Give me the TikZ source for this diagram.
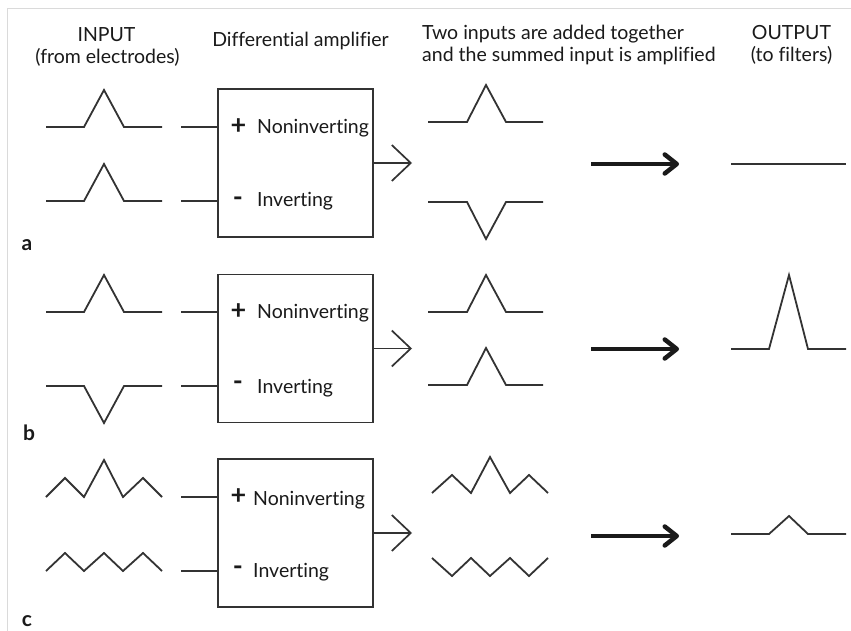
\documentclass[tikz,border=0pt]{standalone}
\usepackage{fontspec}
\setmainfont[Ligatures=NoCommon]{Lato}
\usetikzlibrary{arrows.meta}
\definecolor{ln}{HTML}{333333}
\definecolor{txt}{HTML}{1A1A1A}
\definecolor{frm}{HTML}{DADADA}
\tikzset{
  wave/.style={draw=ln, line width=1.8pt},
  lead/.style={draw=ln, line width=1.8pt},
  ampbox/.style={draw=ln, line width=1.8pt, minimum width=155pt, minimum height=148pt, inner sep=0pt},
  lbl/.style={text=txt, inner sep=0pt, font=\fontsize{19.5}{22}\selectfont},
  sign/.style={text=txt, inner sep=0pt, font=\fontsize{27}{27}\selectfont\bfseries},
  panel/.style={text=txt, inner sep=0pt, font=\fontsize{21}{21}\selectfont\bfseries},
  outarrow/.style={draw=ln, line width=1.7pt, -{Straight Barb[length=19pt,width=36pt]}},
  bigarrow/.style={draw=txt, line width=4.5pt, -{Straight Barb[length=12pt,width=19pt,round]}},
  frame/.style={draw=frm, line width=0.8pt}
}
\begin{document}
\begin{tikzpicture}[x=1pt,y=-1pt]
\useasboundingbox (0,0) rectangle (851,631);
\fill[white] (0,0) rectangle (851,631);
\draw[frame] (851,8) -- (7,8) -- (7,631);

% headers
\node[lbl, anchor=base] (hin1) at (106.5,42) {INPUT};
\node[lbl, anchor=base] (hin2) at (107.5,64) {(from electrodes)};
\node[lbl, anchor=base] (hamp) at (300.5,47) {Differential amplifier};
\node[lbl, anchor=base west] (hsum1) at (422,40) {Two inputs are added together};
\node[lbl, anchor=base west] (hsum2) at (422,62) {and the summed input is amplified};
\node[lbl, anchor=base] (hout1) at (791.5,40) {OUTPUT};
\node[lbl, anchor=base] (hout2) at (791.5,62) {(to filters)};

% ---------- panel a ----------
\node[ampbox] (boxa) at (295.5,163) {};
\draw[wave] (46,127) -- (84,127) -- (104,90) -- (124,127) -- (162,127);
\draw[wave] (46,201) -- (84,201) -- (104,164) -- (124,201) -- (162,201);
\coordinate (ina1) at (181,127);
\coordinate (ina2) at (181,201);
\draw[lead] (ina1) -- (ina1 -| boxa.west);
\draw[lead] (ina2) -- (ina2 -| boxa.west);
\node[sign] (pa) at (238.5,127) {+};
\node[lbl, anchor=base west] (nia) at (257,134) {Noninverting};
\node[sign] (ma) at (238,202) {-};
\node[lbl, anchor=base west] (iva) at (257,207) {Inverting};
\coordinate (oa) at (412,163);
\draw[outarrow] (boxa.east) -- (oa);
\draw[wave] (428,122) -- (467,122) -- (486,85) -- (506,122) -- (543,122);
\draw[wave] (428,202) -- (467,202) -- (486,239) -- (506,202) -- (543,202);
\coordinate (ta1) at (591,164);
\coordinate (ta2) at (679,164);
\draw[bigarrow] (ta1) -- (ta2);
\draw[wave] (731,164) -- (846,164);
\node[panel, anchor=base] (la) at (27,250) {a};

% ---------- panel b ----------
\node[ampbox] (boxb) at (295.5,348.5) {};
\draw[wave] (46,312) -- (84,312) -- (104,275) -- (124,312) -- (162,312);
\draw[wave] (46,386) -- (84,386) -- (104,423) -- (124,386) -- (162,386);
\coordinate (inb1) at (181,312);
\coordinate (inb2) at (181,386);
\draw[lead] (inb1) -- (inb1 -| boxb.west);
\draw[lead] (inb2) -- (inb2 -| boxb.west);
\node[sign] (pb) at (238.5,312) {+};
\node[lbl, anchor=base west] (nib) at (257,318) {Noninverting};
\node[sign] (mb) at (238,386) {-};
\node[lbl, anchor=base west] (ivb) at (257,393) {Inverting};
\coordinate (ob) at (412,348.5);
\draw[outarrow] (boxb.east) -- (ob);
\draw[wave] (428,312) -- (467,312) -- (486,275) -- (506,312) -- (543,312);
\draw[wave] (428,385) -- (467,385) -- (486,348) -- (506,385) -- (543,385);
\coordinate (tb1) at (591,349);
\coordinate (tb2) at (679,349);
\draw[bigarrow] (tb1) -- (tb2);
\draw[wave] (731,349) -- (769,349) -- (789,275) -- (808,349) -- (846,349);
\node[panel, anchor=base] (lb) at (29,440) {b};

% ---------- panel c ----------
\node[ampbox] (boxc) at (295.5,533) {};
\draw[wave] (46,497) -- (65,478) -- (84,497) -- (104,460) -- (123,497) -- (143,478) -- (162,497);
\draw[wave] (46,571) -- (65,553) -- (84,571) -- (104,553) -- (123,571) -- (143,553) -- (162,571);
\coordinate (inc1) at (181,497);
\coordinate (inc2) at (181,571);
\draw[lead] (inc1) -- (inc1 -| boxc.west);
\draw[lead] (inc2) -- (inc2 -| boxc.west);
\node[sign] (pc) at (238.5,497) {+};
\node[lbl, anchor=base west] (nic) at (253,505) {Noninverting};
\node[sign] (mc) at (238,571) {-};
\node[lbl, anchor=base west] (ivc) at (253,577) {Inverting};
\coordinate (oc) at (412,533);
\draw[outarrow] (boxc.east) -- (oc);
\draw[wave] (432,493) -- (452,475) -- (471,493) -- (490,457) -- (510,493) -- (529,475) -- (548,493);
\draw[wave] (432,558) -- (452,576) -- (471,558) -- (490,576) -- (510,558) -- (529,576) -- (548,558);
\coordinate (tc1) at (591,536);
\coordinate (tc2) at (679,536);
\draw[bigarrow] (tc1) -- (tc2);
\draw[wave] (731,534) -- (769,534) -- (789,516) -- (808,534) -- (846,534);
\node[panel, anchor=base] (lc) at (27,626) {c};
\end{tikzpicture}
\end{document}
